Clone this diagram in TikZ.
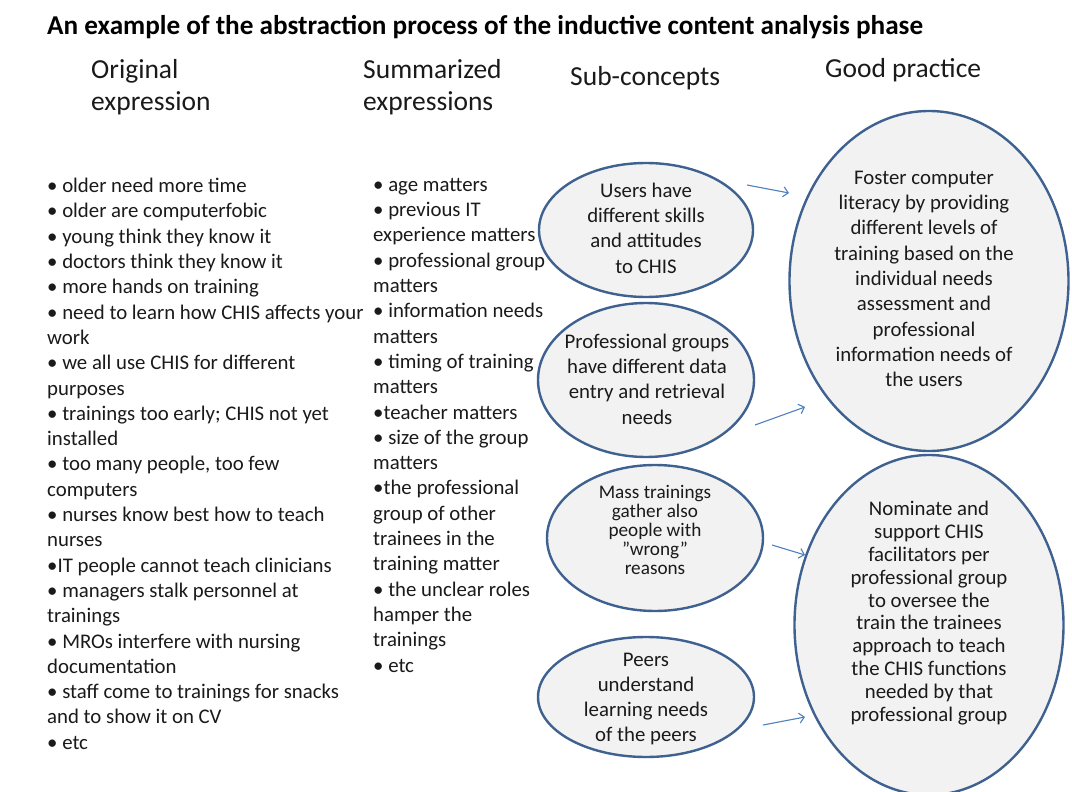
\documentclass[tikz,border=0pt]{standalone}
\usepackage{fontspec}
\setmainfont{Carlito}
\usetikzlibrary{shapes.geometric,arrows.meta}

\definecolor{rim}{HTML}{3E6190}
\definecolor{bubblefill}{HTML}{F2F2F2}
\definecolor{arrowblue}{HTML}{4F81BD}
\definecolor{ink}{HTML}{1A1A1A}

\begin{document}
\begin{tikzpicture}[x=1pt,y=-1pt,
  bubble/.style={ellipse, draw=rim, line width=2.4pt, fill=bubblefill, inner sep=0pt},
  body/.style={font=\fontsize{20.8}{25.3}\selectfont, text=ink, inner sep=0pt},
  column/.style={body, align=left, anchor=north west},
  inbubble/.style={body, align=center},
  heading/.style={font=\fontsize{27.5}{32}\selectfont, text=ink, align=left, inner sep=0pt, anchor=west},
  link/.style={draw=arrowblue, line width=1.1pt, -{Straight Barb[length=5pt,width=10pt]}}
]
\useasboundingbox (0,0) rectangle (1072,792);
\fill[white] (0,0) rectangle (1072,792);

% title and column headings
\node[anchor=west, inner sep=0pt, text=black, font=\bfseries\fontsize{27.2}{30}\selectfont] (title) at (47,27)
  {An example of the abstraction process of the inductive content analysis phase};
\node[heading] (h1) at (91,87) {Original\\expression};
\node[heading] (h2) at (363,87) {Summarized\\expressions};
\node[heading] (h3) at (570,78) {Sub-concepts};
\node[heading] (h4) at (825,70) {Good practice};

% original expressions
\node[column] (orig) at (47,178) {%
• older need more time\\
• older are computerfobic\\
• young think they know it\\
• doctors think they know it\\
• more hands on training\\
• need to learn how CHIS affects your\\
work\\
• we all use CHIS for different\\
purposes\\
• trainings too early; CHIS not yet\\
installed\\
• too many people, too few\\
computers\\
• nurses know best how to teach\\
nurses\\
•IT people cannot teach clinicians\\
• managers stalk personnel at\\
trainings\\
• MROs interfere with nursing\\
documentation\\
• staff come to trainings for snacks\\
and to show it on CV\\
• etc};

% summarized expressions
\node[column] (summ) at (373,178) {%
• age matters\\
• previous IT\\
experience matters\\
• professional group\\
matters\\
• information needs\\
matters\\
• timing of training\\
matters\\
•teacher matters\\
• size of the group\\
matters\\
•the professional\\
group of other\\
trainees in the\\
training matter\\
• the unclear roles\\
hamper the\\
trainings\\
• etc};

% sub-concept bubbles
\node[bubble, minimum width=214pt, minimum height=134pt] (sub1) at (646,230) {};
\node[bubble, minimum width=216pt, minimum height=154pt] (sub2) at (646,380) {};
\node[bubble, minimum width=216pt, minimum height=146pt] (sub3) at (655,538) {};
\node[bubble, minimum width=216pt, minimum height=120pt] (sub4) at (646,697) {};

\node[inbubble] (t1) at (646,228) {Users have\\different skills\\and attitudes\\to CHIS};
\node[inbubble] (t2) at (647,379) {Professional groups\\have different data\\entry and retrieval\\needs};
\node[inbubble, font=\fontsize{19.2}{19}\selectfont] (t3) at (655,530) {Mass trainings\\gather also\\people with\\”wrong”\\reasons};
\node[inbubble] (t4) at (646,699) {Peers\\understand\\learning needs\\of the peers};

% good practice bubbles
\node[bubble, minimum width=279pt, minimum height=340pt] (gp1) at (929,281) {};
\node[bubble, minimum width=269pt, minimum height=340pt] (gp2) at (929,625) {};

\node[inbubble] (g1) at (924,279) {Foster computer\\literacy by providing\\different levels of\\training based on the\\individual needs\\assessment and\\professional\\information needs of\\the users};
\node[inbubble, font=\fontsize{20.8}{22.8}\selectfont] (g2) at (929,613) {Nominate and\\support CHIS\\facilitators per\\professional group\\to oversee the\\train the trainees\\approach to teach\\the CHIS functions\\needed by that\\professional group};

% arrows from sub-concepts to good practice
\coordinate (s1) at (747,185); \coordinate (e1) at (789,193);
\coordinate (s2) at (755,425); \coordinate (e2) at (805,407);
\coordinate (s3) at (772,545); \coordinate (e3) at (805,555);
\coordinate (s4) at (763,725); \coordinate (e4) at (805,717);
\draw[link] (s1) -- (e1);
\draw[link] (s2) -- (e2);
\draw[link] (s3) -- (e3);
\draw[link] (s4) -- (e4);
\end{tikzpicture}
\end{document}
